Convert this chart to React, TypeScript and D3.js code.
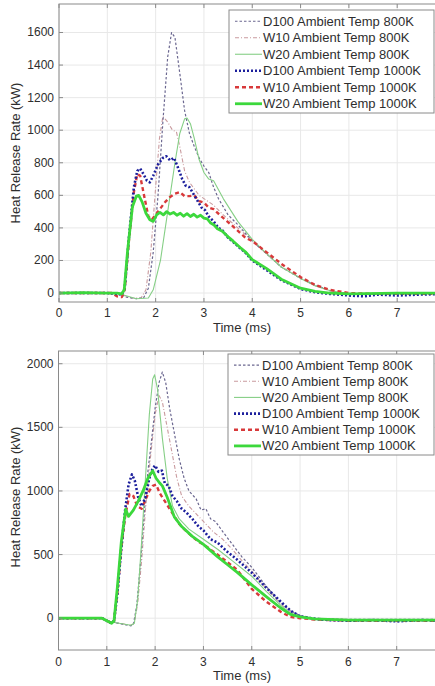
import React from "react";
import * as d3 from "d3";

// ---------- data ----------
const X_TICKS = [0, 1, 2, 3, 4, 5, 6, 7];
const TOP_Y_TICKS = [0, 200, 400, 600, 800, 1000, 1200, 1400, 1600];
const BOT_Y_TICKS = [0, 500, 1000, 1500, 2000];
const SERIES_NAMES = [
  "D100 Ambient Temp 800K",
  "W10 Ambient Temp 800K",
  "W20 Ambient Temp 800K",
  "D100 Ambient Temp 1000K",
  "W10 Ambient Temp 1000K",
  "W20 Ambient Temp 1000K",
];

// top panel  [time ms, HRR kW]
const TOP_D100_800: [number, number][] = [
  [0, 0], [0.6, 2], [1.2, 0], [1.4, -25], [1.6, -35], [1.75, -30], [1.85, 30], [1.95, 250], [2.05, 600],
  [2.15, 1050], [2.25, 1450], [2.33, 1600], [2.4, 1570], [2.5, 1350], [2.6, 1120], [2.7, 980], [2.8, 900],
  [2.9, 830], [3.0, 780], [3.1, 740], [3.2, 650], [3.3, 580], [3.5, 480], [3.7, 420], [4.0, 320], [4.3, 240],
  [4.6, 160], [5.0, 90], [5.3, 50], [5.6, 15], [6.0, -5], [6.5, -5], [7, 0], [8, 0],
];
const TOP_W10_800: [number, number][] = [
  [0, 0], [0.6, 2], [1.2, 0], [1.5, -30], [1.7, -30], [1.8, 20], [1.9, 250], [2.0, 650], [2.08, 950],
  [2.15, 1085], [2.25, 1050], [2.35, 1000], [2.43, 990], [2.5, 900], [2.6, 750], [2.7, 680], [2.8, 640],
  [2.9, 600], [3.0, 580], [3.2, 540], [3.4, 480], [3.7, 400], [4.0, 320], [4.3, 240], [4.6, 160], [5.0, 90],
  [5.3, 45], [5.6, 15], [6, -5], [8, 0],
];
const TOP_W20_800: [number, number][] = [
  [0, 0], [0.6, 2], [1.2, 0], [1.6, -35], [1.85, -30], [1.95, 20], [2.1, 200], [2.25, 500], [2.4, 800],
  [2.5, 980], [2.6, 1070], [2.65, 1075], [2.72, 1040], [2.8, 950], [2.9, 820], [3.0, 740], [3.1, 700],
  [3.2, 690], [3.4, 580], [3.7, 440], [4.0, 330], [4.3, 240], [4.6, 160], [5.0, 90], [5.3, 45], [5.6, 15],
  [6, -5], [8, 0],
];
const TOP_D100_1000: [number, number][] = [
  [0, 0], [0.5, 0], [1.0, 0], [1.2, -5], [1.3, -10], [1.36, 30], [1.45, 350], [1.55, 650], [1.62, 750],
  [1.68, 765], [1.75, 730], [1.82, 690], [1.88, 680], [1.95, 720], [2.05, 790], [2.15, 830], [2.22, 840],
  [2.3, 815], [2.38, 830], [2.45, 780], [2.55, 700], [2.62, 660], [2.7, 650], [2.78, 610], [2.85, 575],
  [2.95, 525], [3.02, 510], [3.1, 470], [3.2, 440], [3.3, 400], [3.38, 386], [3.5, 340], [3.6, 315],
  [3.75, 275], [3.87, 245], [4.0, 200], [4.3, 140], [4.6, 80], [5.0, 25], [5.3, 5], [5.6, -5], [6.0, -15],
  [6.3, -20], [6.6, -10], [7.0, -15], [7.4, -10], [8, -5],
];
const TOP_W10_1000: [number, number][] = [
  [0, 0], [0.6, 0], [1.1, 0], [1.2, -20], [1.3, -25], [1.36, 20], [1.45, 330], [1.55, 620], [1.62, 730],
  [1.68, 720], [1.76, 600], [1.85, 470], [1.92, 450], [2.0, 480], [2.1, 520], [2.2, 560], [2.3, 590],
  [2.4, 610], [2.5, 620], [2.6, 595], [2.7, 595], [2.8, 600], [2.9, 565], [3.0, 555], [3.1, 525], [3.2, 515],
  [3.38, 466], [3.6, 410], [3.87, 337], [4.0, 320], [4.3, 250], [4.6, 180], [5.0, 98], [5.3, 50], [5.6, 20],
  [6.0, 0], [6.5, -5], [7.0, -5], [8, -5],
];
const TOP_W20_1000: [number, number][] = [
  [0, 0], [0.5, 2], [1.0, 0], [1.2, 0], [1.3, -5], [1.35, 20], [1.42, 260], [1.52, 530], [1.6, 595],
  [1.65, 600], [1.72, 560], [1.8, 490], [1.88, 450], [1.95, 440], [2.02, 480], [2.09, 495], [2.16, 480],
  [2.23, 500], [2.3, 485], [2.37, 495], [2.44, 478], [2.51, 490], [2.58, 472], [2.65, 488], [2.72, 470],
  [2.79, 484], [2.86, 466], [2.93, 478], [3.0, 460], [3.07, 455], [3.14, 430], [3.21, 418], [3.28, 395],
  [3.38, 380], [3.5, 345], [3.6, 320], [3.75, 280], [3.87, 250], [4.0, 205], [4.3, 150], [4.6, 85],
  [5.0, 30], [5.3, 10], [5.6, 0], [6.0, -5], [7.0, 0], [8, 0],
];

// bottom panel
const BOT_D100_800: [number, number][] = [
  [0, 0], [0.9, 0], [1.1, -30], [1.3, -45], [1.5, -60], [1.55, -50], [1.62, 100], [1.7, 450], [1.78, 850],
  [1.85, 1150], [1.92, 1380], [2.0, 1650], [2.08, 1850], [2.15, 1935], [2.22, 1850], [2.3, 1650],
  [2.4, 1450], [2.5, 1250], [2.6, 1100], [2.7, 1000], [2.85, 937], [2.95, 850], [3.05, 860], [3.15, 780],
  [3.25, 760], [3.4, 680], [3.6, 580], [3.8, 480], [4.0, 400], [4.3, 250], [4.6, 120], [4.8, 60], [5.0, 20],
  [5.3, 0], [6, -10], [7, -10], [8, -10],
];
const BOT_W10_800: [number, number][] = [
  [0, 0], [0.9, 0], [1.1, -30], [1.5, -55], [1.57, -40], [1.64, 120], [1.72, 450], [1.8, 850], [1.9, 1250],
  [2.0, 1600], [2.08, 1750], [2.15, 1700], [2.25, 1500], [2.35, 1300], [2.45, 1100], [2.55, 960],
  [2.7, 880], [2.85, 820], [3.0, 760], [3.2, 680], [3.4, 620], [3.6, 540], [3.8, 450], [4.0, 370],
  [4.3, 230], [4.6, 110], [4.8, 50], [5.0, 15], [5.3, -5], [6, -10], [8, -10],
];
const BOT_W20_800: [number, number][] = [
  [0, 0], [0.9, 0], [1.1, -30], [1.5, -55], [1.57, -40], [1.64, 150], [1.72, 600], [1.8, 1100],
  [1.88, 1600], [1.95, 1880], [1.99, 1913], [2.05, 1800], [2.15, 1413], [2.25, 1100], [2.36, 881],
  [2.5, 780], [2.7, 700], [3.0, 620], [3.3, 540], [3.6, 450], [4.0, 330], [4.3, 210], [4.6, 100], [4.8, 40],
  [5.0, 10], [5.3, -5], [6, -10], [8, -10],
];
const BOT_D100_1000: [number, number][] = [
  [0, 0], [0.9, 0], [1.1, -40], [1.15, -20], [1.22, 200], [1.3, 550], [1.38, 850], [1.45, 1050],
  [1.52, 1130], [1.58, 1080], [1.65, 950], [1.72, 880], [1.8, 950], [1.88, 1100], [1.95, 1180], [2.0, 1200],
  [2.07, 1150], [2.14, 1160], [2.2, 1060], [2.28, 1040], [2.36, 960], [2.45, 920], [2.55, 860], [2.65, 830],
  [2.77, 780], [2.9, 720], [3.0, 690], [3.15, 620], [3.29, 595], [3.5, 520], [3.7, 460], [4.0, 357],
  [4.3, 240], [4.6, 130], [4.8, 60], [5.0, 15], [5.3, -5], [5.6, -15], [6.0, -20], [6.5, -15], [7.0, -25],
  [7.5, -15], [8, -20],
];
const BOT_W10_1000: [number, number][] = [
  [0, 0], [0.9, 0], [1.1, -40], [1.15, -20], [1.22, 200], [1.3, 550], [1.38, 800], [1.47, 976],
  [1.55, 960], [1.63, 880], [1.72, 860], [1.8, 930], [1.88, 1000], [1.95, 1040], [2.02, 1050], [2.1, 980],
  [2.2, 920], [2.3, 860], [2.4, 800], [2.5, 740], [2.6, 700], [2.77, 640], [2.9, 600], [3.0, 580],
  [3.29, 500], [3.5, 440], [3.7, 380], [4.0, 230], [4.3, 130], [4.6, 50], [4.8, 10], [5.0, 0], [5.3, -10],
  [6.0, -20], [7.0, -20], [8, -20],
];
const BOT_W20_1000: [number, number][] = [
  [0, 0], [0.9, 0], [1.1, -40], [1.15, -20], [1.22, 250], [1.3, 600], [1.39, 857], [1.45, 800],
  [1.55, 850], [1.65, 920], [1.75, 1000], [1.85, 1100], [1.95, 1159], [2.02, 1100], [2.1, 1060],
  [2.15, 1040], [2.25, 950], [2.4, 794], [2.55, 720], [2.77, 643], [3.0, 580], [3.29, 484], [3.5, 420],
  [3.7, 360], [4.0, 262], [4.3, 170], [4.6, 80], [4.8, 30], [5.0, 10], [5.3, -5], [6.0, -15], [7, -15],
  [8, -15],
];

const TOP_SERIES = [TOP_D100_800, TOP_W10_800, TOP_W20_800, TOP_D100_1000, TOP_W10_1000, TOP_W20_1000];
const BOT_SERIES = [BOT_D100_800, BOT_W10_800, BOT_W20_800, BOT_D100_1000, BOT_W10_1000, BOT_W20_1000];

// ---------- styles ----------
const STYLES = [
  { color: "#6b6790", width: 1.2, dash: "2.5,2" },
  { color: "#c99a9e", width: 1.1, dash: "4,2,1,2" },
  { color: "#86cf86", width: 1.1, dash: "" },
  { color: "#1c1f9c", width: 2.6, dash: "2,2" },
  { color: "#d8393a", width: 2.4, dash: "4,3" },
  { color: "#3cd83c", width: 2.8, dash: "" },
];
// draw order: thin first, thick on top
const DRAW_ORDER = [1, 0, 2, 4, 3, 5];

const FONT = "'Liberation Sans', Arial, sans-serif";
const TXT = "#2e2e2e";

type PanelProps = {
  id: string;
  left: number;
  right: number;
  top: number;
  bottom: number;
  yDomain: [number, number];
  yTicks: number[];
  series: [number, number][][];
  legendX: number;
  legendY: number;
  legendH: number;
  tickLabelY: number;
  xLabelY: number;
  yLabelCy: number;
};

function Panel(p: PanelProps) {
  const x = d3.scaleLinear().domain([0, 8]).range([p.left, p.right]);
  const y = d3.scaleLinear().domain(p.yDomain).range([p.bottom, p.top]);
  const line = d3
    .line<[number, number]>()
    .x((d) => x(d[0]))
    .y((d) => y(d[1]));
  const tl = 4;
  const rowH = (p.legendH - 4) / 6;
  return (
    <g>
      <defs>
        <clipPath id={p.id}>
          <rect x={p.left} y={p.top} width={p.right - p.left} height={p.bottom - p.top} />
        </clipPath>
      </defs>
      <rect x={p.left} y={p.top} width={p.right - p.left} height={p.bottom - p.top} fill="#fff" />
      {/* grid */}
      {X_TICKS.map((t) => (
        <line key={"gx" + t} x1={x(t)} x2={x(t)} y1={p.top} y2={p.bottom} stroke="#e8e8e8" strokeWidth={1} />
      ))}
      {p.yTicks.map((t) => (
        <line key={"gy" + t} x1={p.left} x2={p.right} y1={y(t)} y2={y(t)} stroke="#e8e8e8" strokeWidth={1} />
      ))}
      {/* series */}
      <g clipPath={`url(#${p.id})`}>
        {DRAW_ORDER.map((i) => (
          <path
            key={i}
            d={line(p.series[i]) || ""}
            fill="none"
            stroke={STYLES[i].color}
            strokeWidth={STYLES[i].width}
            strokeDasharray={STYLES[i].dash || undefined}
            strokeLinejoin="round"
          />
        ))}
      </g>
      {/* frame */}
      <rect x={p.left} y={p.top} width={p.right - p.left} height={p.bottom - p.top} fill="none" stroke="#8a8a8a" strokeWidth={1} />
      {X_TICKS.map((t) => (
        <g key={"tx" + t}>
          <line x1={x(t)} x2={x(t)} y1={p.bottom} y2={p.bottom - tl} stroke="#8a8a8a" />
          <line x1={x(t)} x2={x(t)} y1={p.top} y2={p.top + tl} stroke="#8a8a8a" />
          <text x={x(t)} y={p.tickLabelY} textAnchor="middle" dominantBaseline="central" fontSize={12} fontFamily={FONT} fill={TXT}>
            {t}
          </text>
        </g>
      ))}
      {p.yTicks.map((t) => (
        <g key={"ty" + t}>
          <line x1={p.left} x2={p.left + tl} y1={y(t)} y2={y(t)} stroke="#8a8a8a" />
          <text x={p.left - 5} y={y(t)} textAnchor="end" dominantBaseline="central" fontSize={12} fontFamily={FONT} fill={TXT}>
            {t}
          </text>
        </g>
      ))}
      <text x={242} y={p.xLabelY} textAnchor="middle" dominantBaseline="central" fontSize={13} fontFamily={FONT} fill={TXT}>
        Time (ms)
      </text>
      <text
        transform={`translate(15,${p.yLabelCy}) rotate(-90)`}
        textAnchor="middle"
        dominantBaseline="central"
        fontSize={13}
        fontFamily={FONT}
        fill={TXT}
      >
        Heat Release Rate (kW)
      </text>
      {/* legend */}
      <rect x={p.legendX} y={p.legendY} width={435 - p.legendX - 1} height={p.legendH} fill="#fff" stroke="#8a8a8a" strokeWidth={1} />
      {SERIES_NAMES.map((name, i) => {
        const cy = p.legendY + 2 + rowH * (i + 0.5) + 1;
        return (
          <g key={name}>
            <line
              x1={p.legendX + 6}
              x2={p.legendX + 33}
              y1={cy}
              y2={cy}
              stroke={STYLES[i].color}
              strokeWidth={STYLES[i].width}
              strokeDasharray={STYLES[i].dash || undefined}
            />
            <text x={p.legendX + 34} y={cy} dominantBaseline="central" fontSize={13} fontFamily={FONT} fill={TXT}>
              {name}
            </text>
          </g>
        );
      })}
    </g>
  );
}

export default function App() {
  return (
    <svg width={435} height={686} style={{ position: "absolute", left: 0, top: 0, background: "#fff" }}>
      <rect x={0} y={0} width={435} height={686} fill="#fff" />
      <Panel
        id="clipTop"
        left={59}
        right={445.5}
        top={4}
        bottom={302}
        yDomain={[-55, 1775]}
        yTicks={TOP_Y_TICKS}
        series={TOP_SERIES}
        legendX={229}
        legendY={10}
        legendH={103}
        tickLabelY={313}
        xLabelY={327}
        yLabelCy={153}
      />
      <Panel
        id="clipBot"
        left={58.5}
        right={445}
        top={351}
        bottom={650}
        yDomain={[-250, 2100]}
        yTicks={BOT_Y_TICKS}
        series={BOT_SERIES}
        legendX={228}
        legendY={354}
        legendH={101}
        tickLabelY={662}
        xLabelY={675}
        yLabelCy={497}
      />
    </svg>
  );
}
